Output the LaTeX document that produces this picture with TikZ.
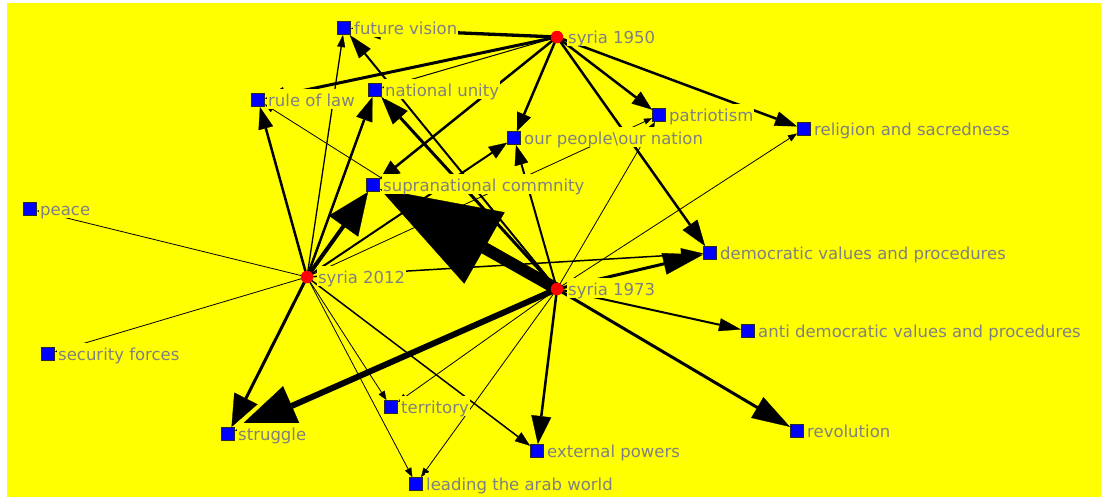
\documentclass[tikz,border=0pt]{standalone}
\usepackage{fontspec}
\setmainfont{DejaVu Sans}
\usetikzlibrary{arrows.meta,positioning}
\definecolor{labgray}{RGB}{128,128,128}
\definecolor{sqedge}{RGB}{40,40,40}
\definecolor{bgyellow}{RGB}{255,255,0}
\definecolor{nodeblue}{RGB}{0,0,255}
\definecolor{nodered}{RGB}{255,0,0}
\pgfdeclarelayer{back}
\pgfdeclarelayer{edges}
\pgfsetlayers{back,edges,main}
\begin{document}
\begin{tikzpicture}[x=1pt,y=-1pt,
  sq/.style={rectangle,draw=sqedge,fill=nodeblue,minimum size=13pt,inner sep=0pt,line width=1pt},
  ctr/.style={circle,fill=nodered,minimum size=12.5pt,inner sep=0pt},
  lab/.style={fill=bgyellow,text=labgray,font=\fontsize{16.5}{18}\selectfont,
    inner xsep=1pt,inner ysep=1pt,text height=16pt,text depth=1.5pt,yshift=1.25pt},
  tie/.style n args={3}{draw=black,line width=#1pt,
    -{Triangle[length=#2pt,width=#3pt,line width=0.3pt]}}]
\useasboundingbox (0,0) rectangle (1103,499);
\begin{pgfonlayer}{back}
\fill[white] (0,0) rectangle (1103,499);
\fill[bgyellow] (7,3) rectangle (1101,497);
\end{pgfonlayer}
% nodes
\node[sq] (fv) at (344,28) {};
\node[sq] (rol) at (258,100) {};
\node[sq] (nu) at (375,90) {};
\node[sq] (op) at (514,138) {};
\node[sq] (pat) at (659,115) {};
\node[sq] (rel) at (804,129) {};
\node[sq] (sup) at (373,185) {};
\node[sq] (peace) at (30,209) {};
\node[sq] (dem) at (710,253) {};
\node[sq] (anti) at (748,331) {};
\node[sq] (sec) at (48,354) {};
\node[sq] (ter) at (391,407) {};
\node[sq] (str) at (228,434) {};
\node[sq] (ext) at (537,451) {};
\node[sq] (lead) at (416,484) {};
\node[sq] (rev) at (797,431) {};
\node[ctr] (s1950) at (557,37) {};
\node[ctr] (s2012) at (307,277) {};
\node[ctr] (s1973) at (557,289) {};
% edges
\begin{pgfonlayer}{edges}
\draw[tie={3.3}{30}{20}] (s1950.center) -- (fv);
\draw[tie={3}{20}{15}] (s1950.center) -- (rol);
\draw[tie={1}{8}{7}] (s1950.center) -- (nu);
\draw[tie={2.5}{20}{16}] (s1950.center) -- (sup);
\draw[tie={2.5}{18}{15}] (s1950.center) -- (op);
\draw[tie={2.5}{20}{15}] (s1950.center) -- (pat);
\draw[tie={2.5}{22}{15}] (s1950.center) -- (rel);
\draw[tie={2.5}{26}{18}] (s1950.center) -- (dem);

\draw[tie={2.5}{22}{15}] (s2012.center) -- (rol);
\draw[tie={1.3}{12}{8}] (s2012.center) -- (fv);
\draw[tie={2.5}{24}{17}] (s2012.center) -- (nu);
\draw[tie={4}{42}{36}] (s2012.center) -- (sup);
\draw[tie={2}{18}{14}] (s2012.center) -- (op);
\draw[tie={0.8}{8}{6}] (s2012.center) -- (pat);
\draw[tie={1.5}{22}{13}] (s2012.center) -- (dem);
\draw[tie={0.8}{8}{6}] (s2012.center) -- (peace);
\draw[tie={0.8}{8}{6}] (s2012.center) -- (sec);
\draw[tie={3}{32}{26}] (s2012.center) -- (str);
\draw[tie={0.8}{9}{7}] (s2012.center) -- (ter);
\draw[tie={0.8}{9}{7}] (s2012.center) -- (lead);
\draw[tie={1.5}{15}{11}] (s2012.center) -- (ext);

\draw[tie={12}{120}{82}] (s1973.center) -- (sup);
\draw[tie={6}{62}{43}] (s1973.center) -- (str);
\draw[tie={3}{40}{22}] (s1973.center) -- (dem);
\draw[tie={2}{22}{13}] (s1973.center) -- (anti);
\draw[tie={3}{38}{24}] (s1973.center) -- (rev);
\draw[tie={2.5}{28}{20}] (s1973.center) -- (ext);
\draw[tie={0.8}{9}{7}] (s1973.center) -- (ter);
\draw[tie={0.8}{9}{7}] (s1973.center) -- (lead);
\draw[tie={2}{20}{14}] (s1973.center) -- (op);
\draw[tie={3}{28}{20}] (s1973.center) -- (nu);
\draw[tie={2}{24}{15}] (s1973.center) -- (fv);
\draw[tie={0.8}{9}{7}] (s1973.center) -- (pat);
\draw[tie={0.8}{9}{7}] (s1973.center) -- (rel);
\draw[tie={0.8}{9}{7}] (s1973.center) -- (rol);
\end{pgfonlayer}
% labels
\node[lab,right=2pt of fv] (lfv) {future vision};
\node[lab,right=2pt of rol] (lrol) {rule of law};
\node[lab,right=2pt of nu] (lnu) {national unity};
\node[lab,right=2pt of op] (lop) {our people\textbackslash our nation};
\node[lab,right=2pt of pat] (lpat) {patriotism};
\node[lab,right=2pt of rel] (lrel) {religion and sacredness};
\node[lab,right=2pt of sup] (lsup) {supranational commnity};
\node[lab,right=2pt of peace] (lpeace) {peace};
\node[lab,right=2pt of dem] (ldem) {democratic values and procedures};
\node[lab,right=2pt of anti] (lanti) {anti democratic values and procedures};
\node[lab,right=2pt of sec] (lsec) {security forces};
\node[lab,right=2pt of ter] (lter) {territory};
\node[lab,right=2pt of str] (lstr) {struggle};
\node[lab,right=2pt of ext] (lext) {external powers};
\node[lab,right=2pt of lead] (llead) {leading the arab world};
\node[lab,right=2pt of rev] (lrev) {revolution};
\node[lab,right=3.5pt of s1950] (l1950) {syria 1950};
\node[lab,right=3.5pt of s2012] (l2012) {syria 2012};
\node[lab,right=3.5pt of s1973] (l1973) {syria 1973};
\end{tikzpicture}
\end{document}
